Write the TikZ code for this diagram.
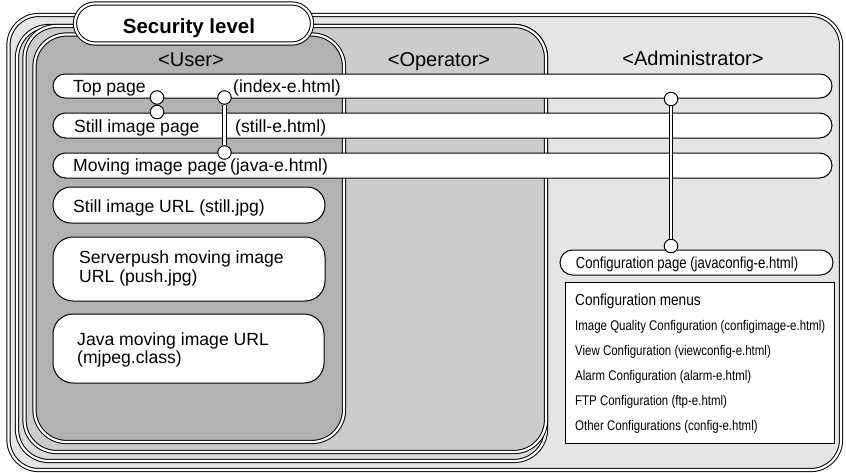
\documentclass[tikz,border=0pt]{standalone}
\usepackage{fontspec}
\setmainfont{Liberation Sans}
\usetikzlibrary{shapes.misc}
\definecolor{admc}{gray}{0.9}
\definecolor{bandc}{gray}{0.86}
\definecolor{opc}{gray}{0.8}
\definecolor{usrc}{gray}{0.7}
\tikzset{
  frame/.style={draw=black, line width=1pt, double=white, double distance=2.2pt},
  pill/.style={rounded rectangle, draw=black, line width=1pt, fill=white, inner sep=0pt},
  rbox/.style={rectangle, draw=black, line width=1pt, fill=white, inner sep=0pt},
  lbl/.style={anchor=base west, inner sep=0pt, font=\fontsize{17.6}{20}\selectfont},
  head/.style={anchor=base, inner sep=0pt, font=\fontsize{20}{22}\selectfont},
  cfg/.style={anchor=base west, inner sep=0pt, font=\fontsize{14}{16}\selectfont},
  knob/.style={circle, draw=black, line width=1pt, fill=white, minimum size=13.5pt, inner sep=0pt},
  bar/.style={draw=black, line width=1pt, double=white, double distance=2.4pt},
}
\begin{document}
\begin{tikzpicture}[x=1pt,y=-1pt]
\useasboundingbox (0,0) rectangle (846,472);
% nested security frames
\path[frame, fill=admc, rounded corners=30pt] (8.5,15) rectangle (841,470);
\path[frame, fill=bandc, rounded corners=32pt] (17,26) rectangle (546,461);
\path[frame, fill=opc, rounded corners=32pt] (24.5,26) rectangle (546,452);
\path[frame, fill=usrc, rounded corners=32pt] (34.5,34.5) rectangle (344,442);
% security level tab
\node[rounded rectangle, frame, fill=white, minimum width=237pt, minimum height=40pt, inner sep=0pt] (sec) at (193.5,23.5) {};
\node[anchor=base, inner sep=0pt, font=\bfseries\fontsize{20.5}{22}\selectfont] (sectxt) at (189,33) {Security level};
% headers
\node[head] (huser) at (191,66) {<User>};
\node[head] (hop) at (439,66) {<Operator>};
\node[head] (hadm) at (693,65) {<Administrator>};
% page pills
\node[pill, minimum width=779pt, minimum height=24pt] (top) at (442.5,86) {};
\node[pill, minimum width=779pt, minimum height=25pt] (still) at (442.5,125.5) {};
\node[pill, minimum width=779pt, minimum height=25pt] (moving) at (442.5,165.5) {};
\node[pill, minimum width=272pt, minimum height=36pt] (surl) at (189,205) {};
\node[rbox, rounded corners=20pt, minimum width=272pt, minimum height=64pt] (push) at (189,269) {};
\node[rbox, rounded corners=20pt, minimum width=271pt, minimum height=69pt] (java) at (188.5,348.5) {};
\node[pill, minimum width=273pt, minimum height=25pt] (cfgpage) at (696.5,262.5) {};
\node[rbox, minimum width=269pt, minimum height=161pt] (cfgbox) at (699.5,362.5) {};
% labels
\node[lbl] (t1) at (73,92) {Top page};
\node[lbl] (t1b) at (233,92) {(index-e.html)};
\node[lbl] (t2) at (74,132) {Still image page};
\node[lbl] (t2b) at (235,132) {(still-e.html)};
\node[lbl] (t3) at (73,171) {Moving image page};
\node[lbl] (t3b) at (230,171) {(java-e.html)};
\node[lbl] (t4) at (73,212) {Still image URL (still.jpg)};
\node[lbl] (t5) at (79,263) {Serverpush moving image};
\node[lbl] (t5b) at (79,282) {URL (push.jpg)};
\node[lbl] (t6) at (77,345) {Java moving image URL};
\node[lbl] (t6b) at (77,363) {(mjpeg.class)};
\node[anchor=base, inner sep=0pt, font=\fontsize{16}{18}\selectfont] (tcfg) at (687,268) {\scalebox{0.82}[1]{Configuration page (javaconfig-e.html)}};
\node[cfg, font=\fontsize{16}{18}\selectfont] (m0) at (575,305) {\scalebox{0.85}[1]{Configuration menus}};
\node[cfg] (m1) at (575,330.5) {\scalebox{0.82}[1]{Image Quality Configuration (configimage-e.html)}};
\node[cfg] (m2) at (575,355.5) {\scalebox{0.82}[1]{View Configuration (viewconfig-e.html)}};
\node[cfg] (m3) at (575,380.5) {\scalebox{0.82}[1]{Alarm Configuration (alarm-e.html)}};
\node[cfg] (m4) at (575,405.5) {\scalebox{0.82}[1]{FTP Configuration (ftp-e.html)}};
\node[cfg] (m5) at (575,430.5) {\scalebox{0.82}[1]{Other Configurations (config-e.html)}};
% link knobs
\node[knob] (c1) at (157,97.5) {};
\node[knob] (c2) at (157,112) {};
\node[knob] (c3) at (224.5,97.5) {};
\node[knob] (c4) at (224.5,152.5) {};
\node[knob] (c5) at (671,99) {};
\node[knob] (c6) at (671,246) {};
\draw[bar] (c3) -- (c4);
\draw[bar] (c5) -- (c6);
\end{tikzpicture}
\end{document}
